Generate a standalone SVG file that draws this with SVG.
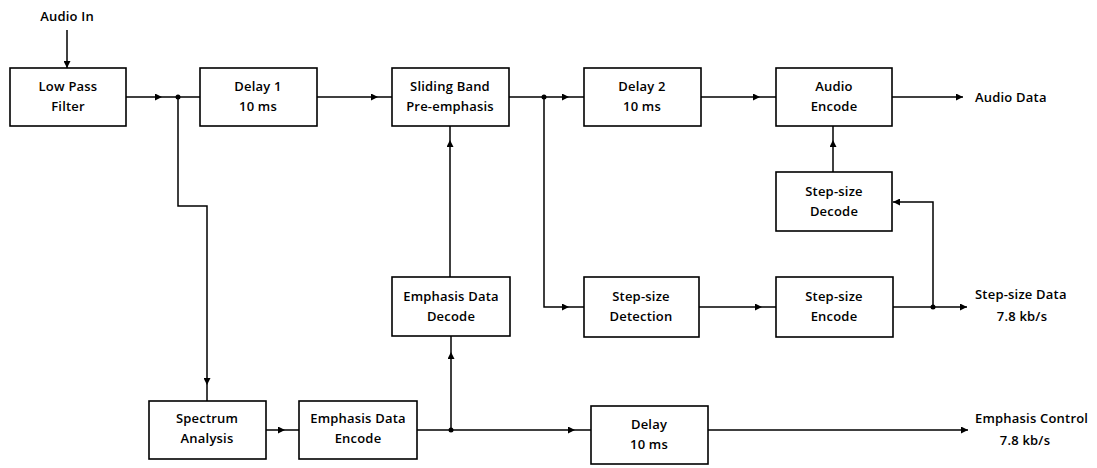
<svg xmlns="http://www.w3.org/2000/svg" width="1097" height="468" viewBox="0 0 1097 468">
<defs>
<marker id="ah" markerUnits="userSpaceOnUse" markerWidth="8" markerHeight="7" refX="7" refY="3.5" orient="auto">
<path d="M0,0 L7,3.5 L0,7 z" fill="#000"/>
</marker>
<style>
rect{fill:#fff;stroke:#000;stroke-width:1.6}
text{font-family:"Open Sans","Noto Sans","DejaVu Sans",sans-serif;font-weight:600;font-size:13px;letter-spacing:0.2px;fill:#000}
.c{text-anchor:middle}
#connectors path{fill:none;stroke:#000;stroke-width:1.5}
.a{marker-end:url(#ah)}
circle{fill:#000}
</style>
</defs>
<rect x="0" y="0" width="1097" height="468" style="fill:#fff;stroke:none"/>
<g id="connectors">
<path class="a" d="M67,30 V68"/>
<path class="a" d="M126,97 H162"/>
<path d="M162,97 H200"/>
<path class="a" d="M178,97 V206 H207 V385"/>
<path d="M207,385 V401"/>
<path class="a" d="M317,97 H378"/>
<path d="M378,97 H392"/>
<path class="a" d="M509,97 H569"/>
<path d="M569,97 H584"/>
<path class="a" d="M544,97 V307 H569"/>
<path d="M569,307 H584"/>
<path class="a" d="M701,97 H760"/>
<path d="M760,97 H776"/>
<path class="a" d="M892,97 H963"/>
<path class="a" d="M833,172 V140"/>
<path d="M833,140 V126"/>
<path class="a" d="M893,307 H967"/>
<path class="a" d="M933,307 V202 H893"/>
<path class="a" d="M699,307 H762"/>
<path d="M762,307 H776"/>
<path class="a" d="M450,277 V140"/>
<path d="M450,140 V126"/>
<path class="a" d="M266,430 H285"/>
<path d="M285,430 H299"/>
<path class="a" d="M417,430 H575"/>
<path d="M575,430 H591"/>
<path class="a" d="M451,430 V352"/>
<path d="M451,352 V336"/>
<path class="a" d="M708,430 H968"/>
<circle cx="178" cy="97" r="2.5"/>
<circle cx="544" cy="97" r="2.5"/>
<circle cx="933" cy="307" r="2.5"/>
<circle cx="451" cy="430" r="2.5"/>
</g>
<g id="audio-in"><text class="c" x="67" y="21">Audio In</text></g>
<g id="lpf"><rect x="10" y="68" width="116" height="58"/><text class="c" x="68" y="91">Low Pass</text><text class="c" x="68" y="111">Filter</text></g>
<g id="delay1"><rect x="200" y="68" width="117" height="58"/><text class="c" x="258" y="91">Delay 1</text><text class="c" x="258" y="111">10 ms</text></g>
<g id="sliding"><rect x="392" y="68" width="117" height="58"/><text class="c" x="450" y="91">Sliding Band</text><text class="c" x="450" y="111">Pre-emphasis</text></g>
<g id="delay2"><rect x="584" y="68" width="117" height="58"/><text class="c" x="642" y="91">Delay 2</text><text class="c" x="642" y="111">10 ms</text></g>
<g id="audio-encode"><rect x="776" y="68" width="116" height="58"/><text class="c" x="834" y="91">Audio</text><text class="c" x="834" y="111">Encode</text></g>
<g id="audio-data"><text x="975" y="102">Audio Data</text></g>
<g id="ss-decode"><rect x="776" y="172" width="116" height="59"/><text class="c" x="834" y="196">Step-size</text><text class="c" x="834" y="216">Decode</text></g>
<g id="emph-decode"><rect x="392" y="277" width="118" height="59"/><text class="c" x="451" y="301">Emphasis Data</text><text class="c" x="451" y="321">Decode</text></g>
<g id="ss-detect"><rect x="584" y="277" width="115" height="60"/><text class="c" x="641" y="301">Step-size</text><text class="c" x="641" y="321">Detection</text></g>
<g id="ss-encode"><rect x="776" y="277" width="117" height="60"/><text class="c" x="834" y="301">Step-size</text><text class="c" x="834" y="321">Encode</text></g>
<g id="ss-data"><text x="975" y="299">Step-size Data</text><text class="c" x="1022" y="321">7.8 kb/s</text></g>
<g id="spectrum"><rect x="149" y="401" width="117" height="58"/><text class="c" x="207" y="423">Spectrum</text><text class="c" x="207" y="443">Analysis</text></g>
<g id="emph-encode"><rect x="299" y="401" width="118" height="58"/><text class="c" x="358" y="423">Emphasis Data</text><text class="c" x="358" y="443">Encode</text></g>
<g id="delay3"><rect x="591" y="406" width="117" height="58"/><text class="c" x="649" y="429">Delay</text><text class="c" x="649" y="449">10 ms</text></g>
<g id="emph-control"><text x="975" y="423">Emphasis Control</text><text class="c" x="1025" y="445">7.8 kb/s</text></g>
</svg>
